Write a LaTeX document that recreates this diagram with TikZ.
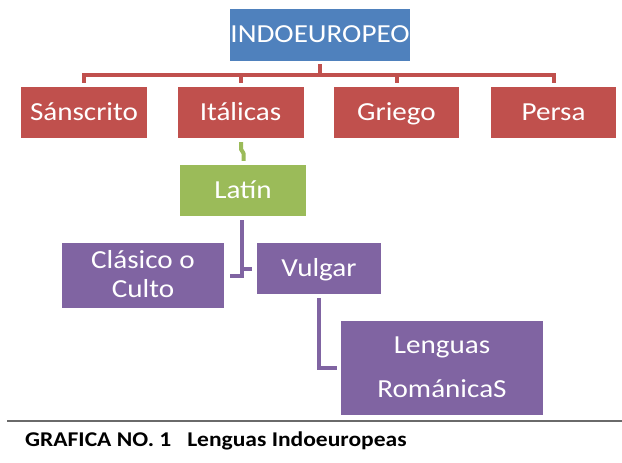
\documentclass[tikz,border=0pt]{standalone}
\usepackage{fontspec}
\newfontfamily\boxfont[FakeStretch=1.12]{Carlito}
\usetikzlibrary{calc}
\definecolor{cblue}{HTML}{4F81BD}
\definecolor{cred}{HTML}{C0504D}
\definecolor{cgreen}{HTML}{9BBB59}
\definecolor{cpurple}{HTML}{8064A2}
\definecolor{crule}{HTML}{6A6A6A}
\begin{document}
\begin{tikzpicture}[x=1pt,y=-1pt,
  box/.style={draw=none, fill=#1, text=white, inner sep=0pt,
    font=\boxfont\fontsize{26}{30}\selectfont, text height=15pt, text depth=0pt,
    minimum width=126pt, minimum height=51pt},
  boxtext/.style={text=white, inner sep=0pt, font=\boxfont\fontsize{26}{30}\selectfont, anchor=base},
  conn/.style={draw=#1, line width=4pt},
]
\useasboundingbox (0,0) rectangle (622,463);
\fill[white] (0,0) rectangle (622,463);

% top level
\node[box=cblue, minimum width=176pt, minimum height=52pt] (indo) at (320,35) {INDOEUROPEO};
% second level
\node[box=cred] (sans) at (84,112.5) {Sánscrito};
\node[box=cred] (ital) at (240.5,112.5) {Itálicas};
\node[box=cred, minimum width=125pt] (grie) at (396.5,112.5) {Griego};
\node[box=cred, minimum width=125pt] (pers) at (553.5,112.5) {Persa};
% Latin
\node[box=cgreen] (latin) at (243,190.5) {Latín};
% purple level
\node[box=cpurple, minimum width=162pt, minimum height=65pt] (clasico) at (143,275.5) {};
\node[boxtext] (clasicoA) at (143,268) {Clásico o};
\node[boxtext] (clasicoB) at (143,297) {Culto};
\node[box=cpurple, minimum width=124pt] (vulgar) at (319,268.5) {Vulgar};
\node[box=cpurple, minimum width=202pt, minimum height=94pt] (lenguas) at (442,368) {};
\node[boxtext] (lenguasA) at (442,353) {Lenguas};
\node[boxtext] (lenguasB) at (442,397) {RománicaS};

% red connectors
\coordinate (bar) at (320,74.5);
\draw[conn=cred, shorten <=3pt] (indo.south) -- (bar);
\draw[conn=cred, shorten >=4pt] (bar) -| (sans.north);
\draw[conn=cred, shorten >=4pt] (bar) -| (ital.north);
\draw[conn=cred, shorten >=4pt] (bar) -| (grie.north);
\draw[conn=cred, shorten >=4pt] (bar) -| (pers.north);

% green squiggle
\draw[conn=cgreen, line join=round] ($(ital.south)+(0.5,4)$) -- ++(0,7) -- ++(2.5,4) -- ($(latin.north)+(0.5,-4)$);

% purple connectors
\coordinate (ldown) at ($(latin.south)+(-1,4)$);
\draw[conn=cpurple] (ldown) |- ($(clasico.east)+(6,0)$);
\draw[conn=cpurple] (vulgar.west -| ldown) -- ($(vulgar.west)+(-5,0)$);
\draw[conn=cpurple] ($(vulgar.south)+(0,4)$) |- ($(lenguas.west)+(-4,0)$);

% caption
\draw[crule, line width=1.3pt] (7,421) -- (622,421);
\node[anchor=base west, inner sep=0pt, font=\boxfont\bfseries\fontsize{21}{25}\selectfont] (caption) at (25,446.7) {GRAFICA NO. 1\ \ \ Lenguas Indoeuropeas};
\end{tikzpicture}
\end{document}
